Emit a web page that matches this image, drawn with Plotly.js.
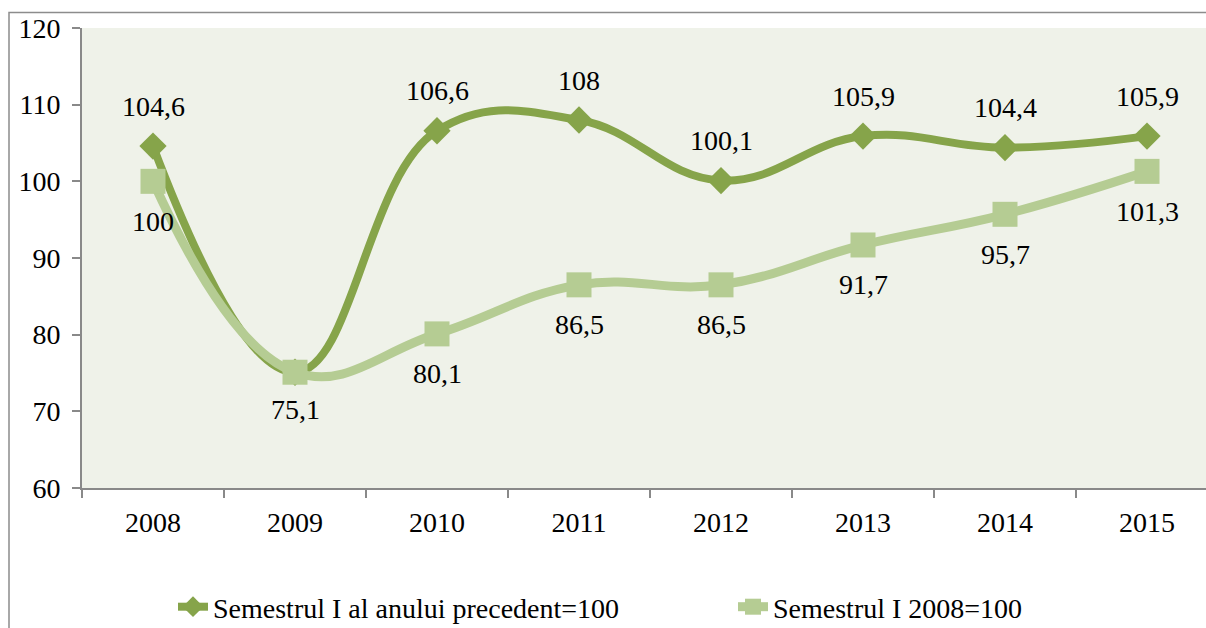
<!DOCTYPE html>
<html>
<head>
<meta charset="utf-8">
<script src="https://cdn.plot.ly/plotly-3.0.1.min.js"></script>
<style>
html,body{margin:0;padding:0;overflow:hidden;background:#fff;}
#chart{width:1206px;height:628px;}
</style>
</head>
<body>
<div id="chart"></div>
<script>
const years = ['2008','2009','2010','2011','2012','2013','2014','2015'];
const seriesPrev = [104.6, 75.1, 106.6, 108, 100.1, 105.9, 104.4, 105.9];
const series2008 = [100, 75.1, 80.1, 86.5, 86.5, 91.7, 95.7, 101.3];
const namePrev = 'Semestrul I al anului precedent=100';
const name2008 = 'Semestrul I 2008=100';

const darkGreen = '#86A44A';
const lightGreen = '#B5CC93';
const FONT = 'Liberation Serif';
const FS = 28;

function fmt(v){ return String(v).replace('.', ','); }

const traces = [
  {
    x: years, y: seriesPrev, name: namePrev, type: 'scatter', mode: 'lines+markers',
    line: {color: darkGreen, width: 8, shape: 'spline', smoothing: 1.2},
    marker: {symbol: 'diamond', size: 21, color: darkGreen}
  },
  {
    x: years, y: series2008, name: name2008, type: 'scatter', mode: 'lines+markers',
    line: {color: lightGreen, width: 9, shape: 'spline', smoothing: 1.2},
    marker: {symbol: 'square', size: 25, color: lightGreen}
  }
];

const annotations = [];
years.forEach((yr, i) => {
  annotations.push({xref: 'x', yref: 'y', x: i, y: seriesPrev[i], text: fmt(seriesPrev[i]),
    showarrow: false, yshift: (i === 1 ? -37 : 40),
    font: {family: FONT, size: FS, color: '#000'}});
  if (i !== 1) {
    annotations.push({xref: 'x', yref: 'y', x: i, y: series2008[i], text: fmt(series2008[i]),
      showarrow: false, yshift: -40,
      font: {family: FONT, size: FS, color: '#000'}});
  }
});

const W = 1206, H = 628, L = 82, R = 0, T = 28, B = 140;
const pw = W - L - R, ph = H - T - B;

const layout = {
  width: W, height: H,
  margin: {l: L, r: R, t: T, b: B, pad: 0, autoexpand: false},
  paper_bgcolor: '#ffffff',
  plot_bgcolor: '#EFF2E9',
  font: {family: FONT, size: FS, color: '#000'},
  showlegend: true,
  legend: {
    orientation: 'h', x: (173 - L) / pw, xanchor: 'left',
    y: (H - B - 607) / ph, yanchor: 'middle',
    font: {family: FONT, size: FS, color: '#000'},
    bgcolor: 'rgba(0,0,0,0)', entrywidth: 515, entrywidthmode: 'pixels',
    itemclick: false
  },
  xaxis: {
    type: 'category', range: [-0.5, -0.5 + pw / 142],
    showgrid: false, zeroline: false, automargin: false,
    showline: true, linecolor: '#898989', linewidth: 2,
    ticks: 'outside', tickson: 'boundaries', ticklen: 8, tickcolor: '#898989', tickwidth: 2,
    ticklabelstandoff: 8,
    tickfont: {family: FONT, size: FS, color: '#000'},
    fixedrange: true
  },
  yaxis: {
    range: [60, 120], dtick: 10, tick0: 60,
    showgrid: false, zeroline: false, automargin: false,
    showline: true, linecolor: '#898989', linewidth: 2,
    ticks: 'outside', ticklen: 8, tickcolor: '#898989', tickwidth: 2,
    ticklabelstandoff: 6,
    tickfont: {family: FONT, size: FS, color: '#000'},
    fixedrange: true
  },
  annotations: annotations,
  shapes: [{
    type: 'rect', xref: 'paper', yref: 'paper',
    x0: (9 - L) / pw, x1: 1.2, y0: (H - B - 12.5) / ph, y1: -0.5,
    line: {color: '#8C8C8C', width: 1.5}, fillcolor: 'rgba(0,0,0,0)', layer: 'below'
  }]
};

Plotly.newPlot('chart', traces, layout, {staticPlot: true, displayModeBar: false});
</script>
</body>
</html>
